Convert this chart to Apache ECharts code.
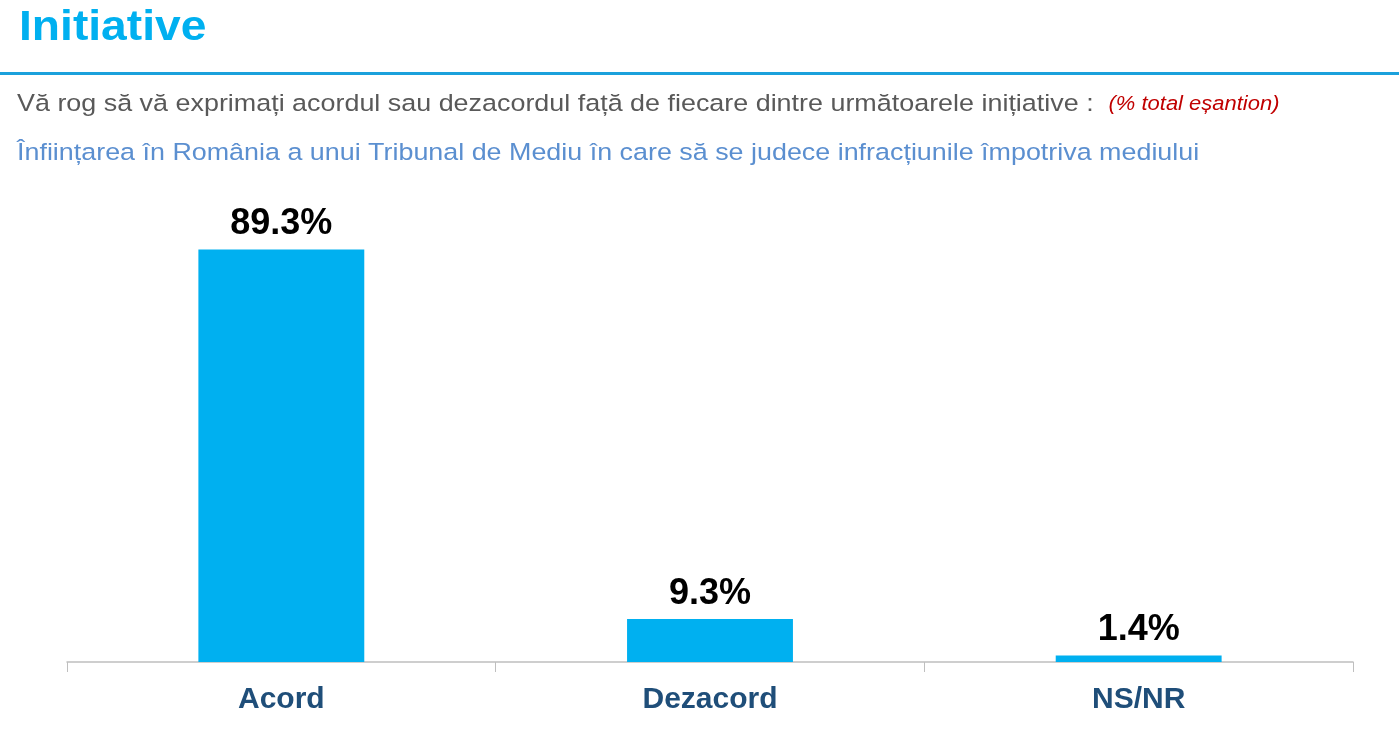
<!DOCTYPE html>
<html>
<head>
<meta charset="utf-8">
<script src="https://cdn.jsdelivr.net/npm/echarts@6/dist/echarts.min.js"></script>
<style>
html,body{margin:0;padding:0;background:#fff;}
#c{width:1399px;height:750px;}
</style>
</head>
<body>
<div id="c"></div>
<script>
const categories = ['Acord', 'Dezacord', 'NS/NR'];
const values = [89.3, 9.3, 1.4];
const titleText = 'Initiative';
const questionText = 'Vă rog să vă exprimați acordul sau dezacordul față de fiecare dintre următoarele inițiative :';
const noteText = '(% total eșantion)';
const subjectText = 'Înființarea în România a unui Tribunal de Mediu în care să se judece infracțiunile împotriva mediului';

const FONT = 'Liberation Sans, Arial, sans-serif';
const chart = echarts.init(document.getElementById('c'));
chart.setOption({
  animation: false,
  graphic: [
    {
      type: 'text', x: 19, y: 28, scaleX: 1.1,
      style: { text: titleText, font: 'bold 42px ' + FONT, fill: '#00b0f0', textVerticalAlign: 'middle' }
    },
    { type: 'rect', shape: { x: 0, y: 72, width: 1399, height: 3 }, style: { fill: '#1ba1dc' } },
    {
      type: 'text', x: 17, y: 104, scaleX: 1.098,
      style: {
        text: '{q|' + questionText + '  }{n|' + noteText + '}',
        textVerticalAlign: 'middle',
        rich: {
          q: { fontFamily: FONT, fontWeight: 'normal', fontSize: 24.5, fill: '#595959', color: '#595959' },
          n: { fontFamily: FONT, fontWeight: 'normal', fontStyle: 'italic', fontSize: 20, fill: '#c00000', color: '#c00000' }
        }
      }
    },
    {
      type: 'text', x: 17, y: 153, scaleX: 1.097,
      style: { text: subjectText, font: 'normal 24.5px ' + FONT, fill: '#5b8fd0', textVerticalAlign: 'middle' }
    }
  ],
  grid: { left: 67, right: 46, top: 200, bottom: 88 },
  xAxis: {
    type: 'category',
    data: categories,
    axisLine: { lineStyle: { color: '#bfbfbf', width: 1.5 } },
    axisTick: { show: true, length: 10, lineStyle: { color: '#bfbfbf' } },
    axisLabel: { margin: 23, fontFamily: FONT, fontWeight: 'bold', fontSize: 30, color: '#1f4e79' }
  },
  yAxis: {
    type: 'value', min: 0, max: 100,
    show: false,
    splitLine: { show: false }
  },
  series: [{
    type: 'bar',
    data: values,
    barWidth: '38.7%',
    itemStyle: { color: '#00b0f0' },
    label: {
      show: true, position: 'top', distance: 7,
      formatter: p => p.value.toFixed(1) + '%',
      fontFamily: FONT, fontWeight: 'bold', fontSize: 36, color: '#000'
    }
  }]
});
</script>
</body>
</html>
